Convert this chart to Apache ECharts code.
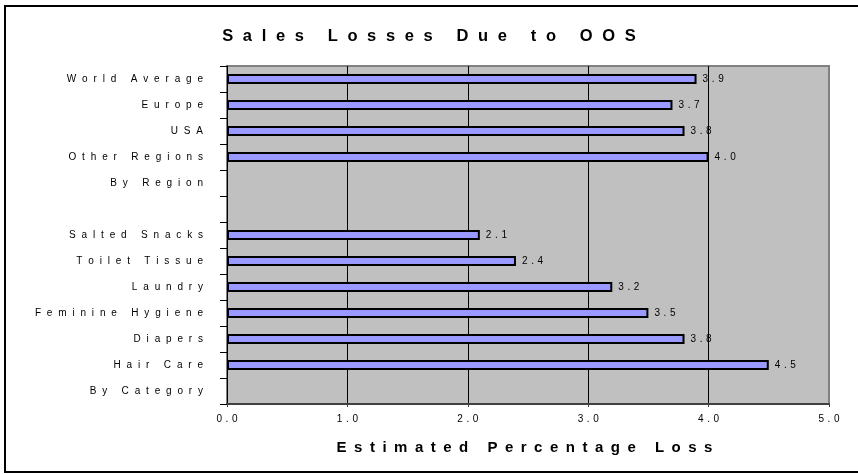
<!DOCTYPE html>
<html>
<head>
<meta charset="utf-8">
<title>Sales Losses Due to OOS</title>
<script src="https://cdn.jsdelivr.net/npm/echarts@6/dist/echarts.min.js"></script>
<style>
  html, body { margin: 0; padding: 0; background: #fff; }
  #chart { width: 858px; height: 474px; }
</style>
</head>
<body>
<div id="chart"></div>
<script>
// Category rows, bottom to top (the empty entry is a spacer row between groups)
const categories = [
  'By Category', 'Hair Care', 'Diapers', 'Feminine Hygiene', 'Laundry',
  'Toilet Tissue', 'Salted Snacks', '', 'By Region', 'Other Regions',
  'USA', 'Europe', 'World Average'
];
// Estimated percentage of sales lost to out-of-stocks
const lossValues = [null, 4.5, 3.8, 3.5, 3.2, 2.4, 2.1, null, null, 4.0, 3.8, 3.7, 3.9];
// Value axis ticks
const xTicks = [0, 1, 2, 3, 4, 5];

const titleText = 'Sales Losses Due to OOS';
const axisTitle = 'Estimated Percentage Loss';

// Wide letter-spaced typography: join the glyphs with narrow space characters
const WIDE = '\u2002\u200A';
const EN = '\u2002';
const NARROW = ' \u200A';
function spaced(str, gap) {
  return Array.from(String(str)).join(gap);
}

const FONT = '"Liberation Sans", Arial, Helvetica, sans-serif';

const chart = echarts.init(document.getElementById('chart'), null, { renderer: 'canvas' });

chart.setOption({
  animation: false,
  backgroundColor: '#ffffff',
  textStyle: { fontFamily: FONT },
  title: {
    text: spaced(titleText, WIDE),
    left: 'center',
    top: 23,
    textStyle: { fontFamily: FONT, fontSize: 16.5, fontWeight: 'bold', color: '#000' }
  },
  graphic: [{
    type: 'rect',
    silent: true,
    z: -10,
    shape: { x: 5, y: 6, width: 880, height: 466 },
    style: { fill: 'none', stroke: '#000', lineWidth: 2 }
  }],
  grid: {
    left: 227,
    right: 29,
    top: 66,
    bottom: 70,
    show: true,
    backgroundColor: '#C0C0C0',
    borderColor: '#808080',
    borderWidth: 2
  },
  xAxis: {
    type: 'value',
    min: xTicks[0],
    max: xTicks[xTicks.length - 1],
    interval: xTicks[1] - xTicks[0],
    name: spaced(axisTitle, EN),
    nameLocation: 'middle',
    nameGap: 36,
    nameTextStyle: {
      fontFamily: FONT, fontSize: 15, fontWeight: 'bold', color: '#000',
      padding: [0, 7, 0, 0]
    },
    axisLine: { show: true, lineStyle: { color: '#404040', width: 2 } },
    axisTick: { show: true, length: 3, lineStyle: { color: '#404040', width: 1 } },
    axisLabel: {
      margin: 10,
      fontFamily: FONT,
      fontSize: 10,
      color: '#000',
      formatter: v => spaced(v.toFixed(1), NARROW)
    },
    splitLine: {
      show: true,
      lineStyle: {
        color: ['#808080', '#000', '#000', '#000', '#000', '#808080'],
        width: 1
      }
    }
  },
  yAxis: {
    type: 'category',
    data: categories,
    axisLine: { show: true, lineStyle: { color: '#000', width: 1 } },
    axisTick: { show: true, length: 7, alignWithLabel: false, lineStyle: { color: '#000', width: 1 } },
    axisLabel: {
      interval: 0,
      margin: 24,
      fontFamily: FONT,
      fontSize: 10,
      color: '#000',
      formatter: v => spaced(v, WIDE)
    },
    splitLine: { show: false }
  },
  series: [{
    type: 'bar',
    data: lossValues,
    barWidth: 10,
    itemStyle: { color: '#9999FF', borderColor: '#000', borderWidth: 2 },
    label: {
      show: true,
      position: 'right',
      distance: 6,
      fontFamily: FONT,
      fontSize: 10,
      color: '#000',
      formatter: p => (p.value == null ? '' : spaced(Number(p.value).toFixed(1), NARROW))
    }
  }]
});
</script>
</body>
</html>
